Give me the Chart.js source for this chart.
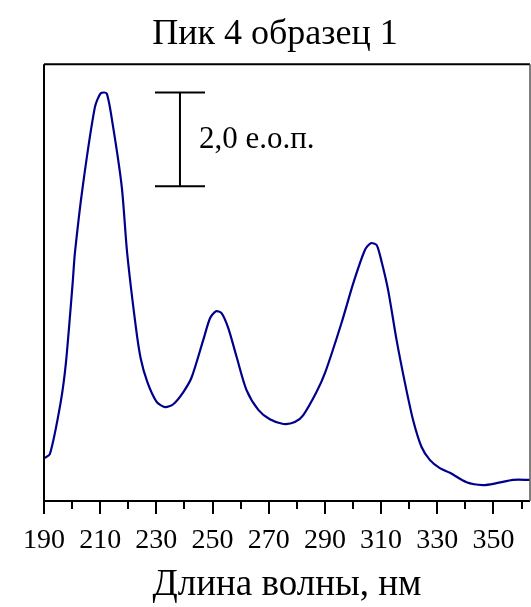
<!DOCTYPE html>
<html>
<head>
<meta charset="utf-8">
<script src="https://cdn.jsdelivr.net/npm/chart.js"></script>
<style>
  html, body { margin: 0; padding: 0; background: #fff; }
  #wrap { width: 531px; height: 607px; }
</style>
</head>
<body>
<div id="wrap"><canvas id="chart" width="531" height="607"></canvas></div>
<script>
  // spectrum: wavelength (nm) / absorbance (arb. units)
  const wavelengths = [190.0, 192.1, 195.9, 197.8, 200.2, 201.0, 203.8, 208.1, 210.2, 212.3,
    214.4, 217.7, 219.6, 222.7, 224.4, 226.8, 230.1, 233.1, 236.0, 239.6,
    242.6, 246.7, 249.1, 251.2, 253.2, 255.6, 258.6, 262.1, 266.3, 270.4,
    275.2, 279.3, 282.3, 287.0, 290.0, 295.9, 300.1, 304.2, 306.3, 308.4,
    310.2, 312.5, 315.5, 318.5, 321.4, 324.4, 327.4, 330.9, 334.5, 340.4,
    346.3, 351.1, 357.0, 362.9];
  const absorbance = [0.91, 1.00, 2.09, 2.94, 4.64, 5.28, 6.70, 8.38, 8.68, 8.68,
    8.04, 6.68, 5.28, 3.70, 3.04, 2.53, 2.11, 2.00, 2.06, 2.32,
    2.64, 3.43, 3.89, 4.04, 4.00, 3.68, 3.06, 2.36, 1.94, 1.74,
    1.64, 1.68, 1.83, 2.32, 2.72, 3.79, 4.64, 5.34, 5.49, 5.45,
    5.09, 4.49, 3.43, 2.51, 1.72, 1.15, 0.87, 0.70, 0.60, 0.40,
    0.34, 0.38, 0.45, 0.45];
  const xLabels = [190, 210, 230, 250, 270, 290, 310, 330, 350];

  const serif = "'Liberation Serif', 'Times New Roman', serif";

  // frame, tick marks and the 2,0 scale bar
  const extras = {
    id: 'extras',
    afterDraw(chart) {
      const { ctx, chartArea: a, scales: { x, y } } = chart;
      ctx.save();
      ctx.strokeStyle = '#000';
      ctx.lineWidth = 2;
      ctx.beginPath();
      ctx.moveTo(a.left, a.top); ctx.lineTo(a.right, a.top);
      ctx.moveTo(a.left, a.top); ctx.lineTo(a.left, a.bottom);
      ctx.moveTo(a.left - 1, a.bottom); ctx.lineTo(a.right, a.bottom);
      ctx.stroke();
      ctx.strokeStyle = '#555';
      ctx.lineWidth = 1.5;
      ctx.beginPath();
      ctx.moveTo(a.right, a.top); ctx.lineTo(a.right, a.bottom);
      ctx.stroke();

      ctx.strokeStyle = '#000';
      ctx.lineWidth = 2;
      ctx.beginPath();
      for (let v = 190; v <= x.max; v += 10) {
        const px = Math.round(x.getPixelForValue(v));
        const len = xLabels.includes(v) ? 13 : 8;
        ctx.moveTo(px, a.bottom); ctx.lineTo(px, a.bottom + len);
      }
      ctx.stroke();

      const o = chart.options.plugins.extras;
      const x0 = x.getPixelForValue(o.barX - o.capHalf);
      const x1 = x.getPixelForValue(o.barX + o.capHalf);
      const xc = x.getPixelForValue(o.barX);
      const yt = y.getPixelForValue(o.barTop);
      const yb = y.getPixelForValue(o.barTop - o.barSize);
      ctx.beginPath();
      ctx.moveTo(x0, yt); ctx.lineTo(x1, yt);
      ctx.moveTo(x0, yb); ctx.lineTo(x1, yb);
      ctx.moveTo(xc, yt); ctx.lineTo(xc, yb);
      ctx.stroke();
      ctx.fillStyle = '#000';
      ctx.font = '31px ' + serif;
      ctx.textBaseline = 'middle';
      ctx.fillText(o.barText, xc + 19, (yt + yb) / 2 + 1);
      ctx.restore();
    }
  };

  new Chart(document.getElementById('chart'), {
    type: 'line',
    data: {
      datasets: [{
        data: wavelengths.map((w, i) => ({ x: w, y: absorbance[i] })),
        borderColor: '#00008b',
        borderWidth: 2.2,
        pointRadius: 0,
        tension: 0.25,
        fill: false
      }]
    },
    options: {
      responsive: false,
      animation: false,
      layout: { padding: { left: 20, right: 1, top: 0, bottom: 0 } },
      plugins: {
        legend: { display: false },
        tooltip: { enabled: false },
        title: {
          display: true,
          text: 'Пик 4 образец 1',
          color: '#000',
          font: { family: serif, size: 36, weight: 'normal' },
          padding: { top: 13, bottom: 8 }
        },
        extras: { barX: 238.4, capHalf: 8.9, barTop: 8.7, barSize: 2.0, barText: '2,0 е.о.п.' }
      },
      scales: {
        x: {
          type: 'linear',
          min: 190,
          max: 363,
          grid: { display: false, drawTicks: false },
          border: { display: false },
          ticks: {
            stepSize: 10,
            padding: 23,
            color: '#000',
            maxRotation: 0,
            autoSkip: false,
            font: { family: serif, size: 28 },
            callback: (v) => xLabels.includes(v) ? String(v) : ''
          },
          title: {
            display: true,
            text: 'Длина волны, нм',
            color: '#000',
            font: { family: serif, size: 37 },
            padding: { top: 2, bottom: 0 }
          },
          afterFit: (s) => { s.height = 106; s.paddingLeft = 0; s.paddingRight = 0; }
        },
        y: {
          min: 0,
          max: 9.3,
          grid: { display: false, drawTicks: false },
          border: { display: false },
          ticks: { display: false },
          afterFit: (s) => { s.width = 24; s.paddingTop = 0; s.paddingBottom = 0; }
        }
      }
    },
    plugins: [extras]
  });
</script>
</body>
</html>
